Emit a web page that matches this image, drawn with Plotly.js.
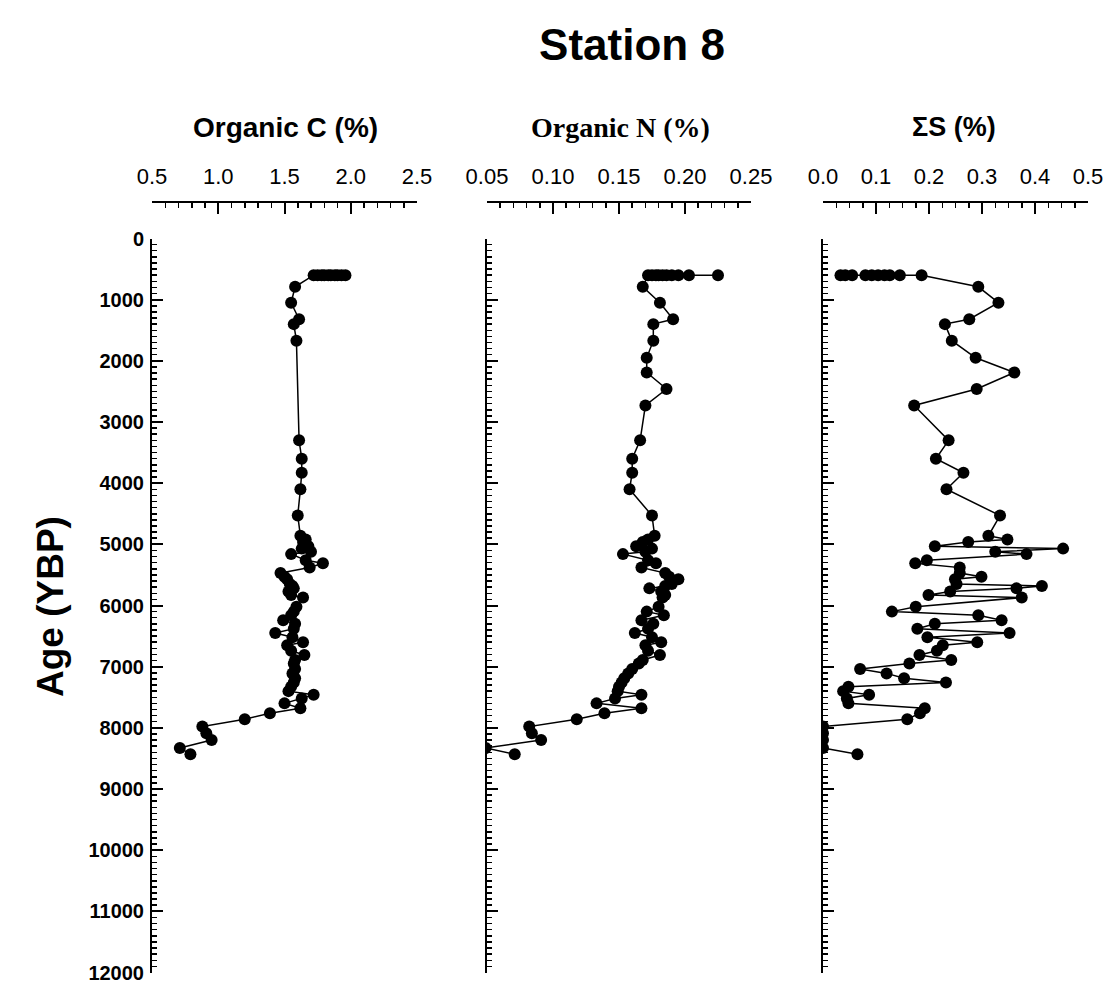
<!DOCTYPE html>
<html>
<head>
<meta charset="utf-8">
<script src="https://cdn.plot.ly/plotly-3.0.1.min.js"></script>
<style>html,body{margin:0;padding:0;background:#fff;}#chart{width:1112px;height:987px;}</style>
</head>
<body>
<div id="chart"></div>
<script>
// Sample ages (years before present), shared by all three profiles
const ageYBP = [600,600,600,600,600,600,600,600,600,600,
  790,1050,1320,1400,1670,1950,2190,2460,2730,3300,3600,3830,4100,4530,
  4860,4920,4960,5030,5070,5120,5160,5260,5310,5380,
  5470,5530,5570,5650,5680,5720,5770,5830,5870,6020,
  6100,6160,6240,6300,6380,6450,6520,6600,6650,6740,
  6810,6890,6950,7040,7110,7190,7260,7330,7400,7460,
  7520,7600,7680,7760,7860,7980,8090,8200,8330,8430];

// Organic C (%)
const orgC = [1.96,1.93,1.90,1.88,1.85,1.83,1.80,1.78,1.75,1.72,
  1.58,1.55,1.61,1.57,1.59,null,null,null,null,1.61,1.63,1.63,1.62,1.60,
  1.62,1.66,1.64,1.68,1.63,1.70,1.55,1.66,1.79,1.69,
  1.47,1.50,1.52,1.54,1.56,1.57,1.53,1.55,1.64,1.59,
  1.57,1.55,1.49,1.58,1.57,1.43,1.56,1.64,1.52,1.55,
  1.65,1.58,1.57,1.58,1.56,1.58,1.57,1.55,1.53,1.72,
  1.63,1.50,1.62,1.39,1.20,0.88,0.91,0.95,0.71,0.79];

// Organic N (%)
const orgN = [0.225,0.203,0.195,0.190,0.186,0.183,0.180,0.178,0.175,0.172,
  0.168,0.181,0.191,0.176,0.176,0.171,0.171,0.186,0.170,0.166,0.160,0.160,0.158,0.175,
  0.177,0.172,0.168,0.163,0.175,0.170,0.153,0.172,0.178,0.167,
  0.185,0.188,0.195,0.190,0.185,0.173,0.182,0.185,0.183,0.180,
  0.171,0.184,0.167,0.176,0.172,0.162,0.175,0.182,0.170,0.172,
  0.181,0.168,0.165,0.160,0.157,0.154,0.152,0.150,0.149,0.167,
  0.147,0.133,0.167,0.139,0.118,0.082,0.084,0.091,0.049,0.071];

// Total sulfur, ΣS (%)
const sumS = [0.033,0.042,0.055,0.080,0.092,0.104,0.116,0.126,0.145,0.186,
  0.293,0.331,0.276,0.230,0.243,0.288,0.361,0.290,0.172,0.237,0.213,0.265,0.233,0.334,
  0.312,0.348,0.274,0.211,0.453,0.325,0.384,0.196,0.174,0.258,
  0.258,0.299,0.249,0.252,0.413,0.365,0.240,0.199,0.375,0.175,
  0.130,0.293,0.337,0.211,0.178,0.352,0.197,0.291,0.226,0.215,
  0.182,0.242,0.163,0.070,0.120,0.153,0.232,0.048,0.038,0.087,
  0.045,0.048,0.192,0.183,0.159,0,0,0,0,0.065];

const W = 1112, H = 987;
const px = v => v / W, py = v => 1 - v / H;
const ARIAL = 'Liberation Sans, Arial, sans-serif';
const TIMES = 'Liberation Serif, Times New Roman, serif';

function trace(x, xa, ya) {
  return {
    x: x, y: ageYBP, xaxis: xa, yaxis: ya, type: 'scatter', mode: 'lines+markers',
    connectgaps: true,
    line: {color: '#000', width: 1.5},
    marker: {color: '#000', size: 12},
    hoverinfo: 'x+y', showlegend: false
  };
}

const yDom = [1 - 972.5 / H, 1 - 238.5 / H];
const xPos = py(202);

function xAxis(dom, range, dtick, minor, fmt) {
  return {
    domain: dom, range: range, side: 'top', anchor: 'free', position: xPos,
    dtick: dtick, tick0: range[0], tickformat: fmt,
    ticks: 'inside', ticklen: 11, tickwidth: 2, tickcolor: '#000',
    minor: {dtick: minor, ticks: 'inside', ticklen: 5, tickwidth: 1.5, tickcolor: '#000', showgrid: false},
    showline: true, linewidth: 2, linecolor: '#000',
    showgrid: false, zeroline: false, fixedrange: true,
    tickfont: {family: ARIAL, size: 22, color: '#000'},
    ticklabelstandoff: 8
  };
}
function yAxis(xanchor, labels) {
  return {
    domain: yDom, range: [12000, 0], anchor: xanchor, autorange: false,
    dtick: 1000, tick0: 0, tickformat: 'd',
    ticks: 'inside', ticklen: 11, tickwidth: 2, tickcolor: '#000',
    minor: {dtick: 100, ticks: 'inside', ticklen: 5, tickwidth: 1.5, tickcolor: '#000', showgrid: false},
    showline: true, linewidth: 2, linecolor: '#000',
    showgrid: false, zeroline: false, fixedrange: true,
    showticklabels: labels,
    tickfont: {family: ARIAL, size: 20, color: '#000', weight: 'bold'},
    ticklabelstandoff: 2
  };
}

const dom1 = [px(152), px(417)], dom2 = [px(487), px(751)], dom3 = [px(823), px(1088)];

const data = [trace(orgC, 'x', 'y'), trace(orgN, 'x2', 'y2'), trace(sumS, 'x3', 'y3')];

const layout = {
  width: W, height: H,
  margin: {l: 0, r: 0, t: 0, b: 0},
  paper_bgcolor: '#fff', plot_bgcolor: 'rgba(0,0,0,0)',
  title: {text: 'Station 8', x: px(632), xanchor: 'center', y: py(45), yanchor: 'middle',
          font: {family: ARIAL, size: 44, color: '#000', weight: 'bold'}},
  xaxis: xAxis(dom1, [0.5, 2.5], 0.5, 0.1, '.1f'),
  xaxis2: xAxis(dom2, [0.05, 0.25], 0.05, 0.01, '.2f'),
  xaxis3: xAxis(dom3, [0, 0.5], 0.1, 0.025, '.1f'),
  yaxis: yAxis('x', true), yaxis2: yAxis('x2', false), yaxis3: yAxis('x3', false),
  annotations: [
    {text: 'Organic C (%)', xref: 'paper', yref: 'paper', x: px(285), y: py(127), showarrow: false,
     xanchor: 'center', yanchor: 'middle', font: {family: ARIAL, size: 28, color: '#000', weight: 'bold'}},
    {text: 'Organic N (%)', xref: 'paper', yref: 'paper', x: px(620), y: py(127), showarrow: false,
     xanchor: 'center', yanchor: 'middle', font: {family: TIMES, size: 28, color: '#000', weight: 'bold'}},
    {text: 'ΣS (%)', xref: 'paper', yref: 'paper', x: px(954), y: py(127), showarrow: false,
     xanchor: 'center', yanchor: 'middle', font: {family: ARIAL, size: 27, color: '#000', weight: 'bold'}},
    {text: 'Age (YBP)', xref: 'paper', yref: 'paper', x: px(50), y: py(607), showarrow: false,
     textangle: -90, xanchor: 'center', yanchor: 'middle', font: {family: ARIAL, size: 37, color: '#000', weight: 'bold'}}
  ]
};

Plotly.newPlot('chart', data, layout, {displayModeBar: false, staticPlot: true});
</script>
</body>
</html>
